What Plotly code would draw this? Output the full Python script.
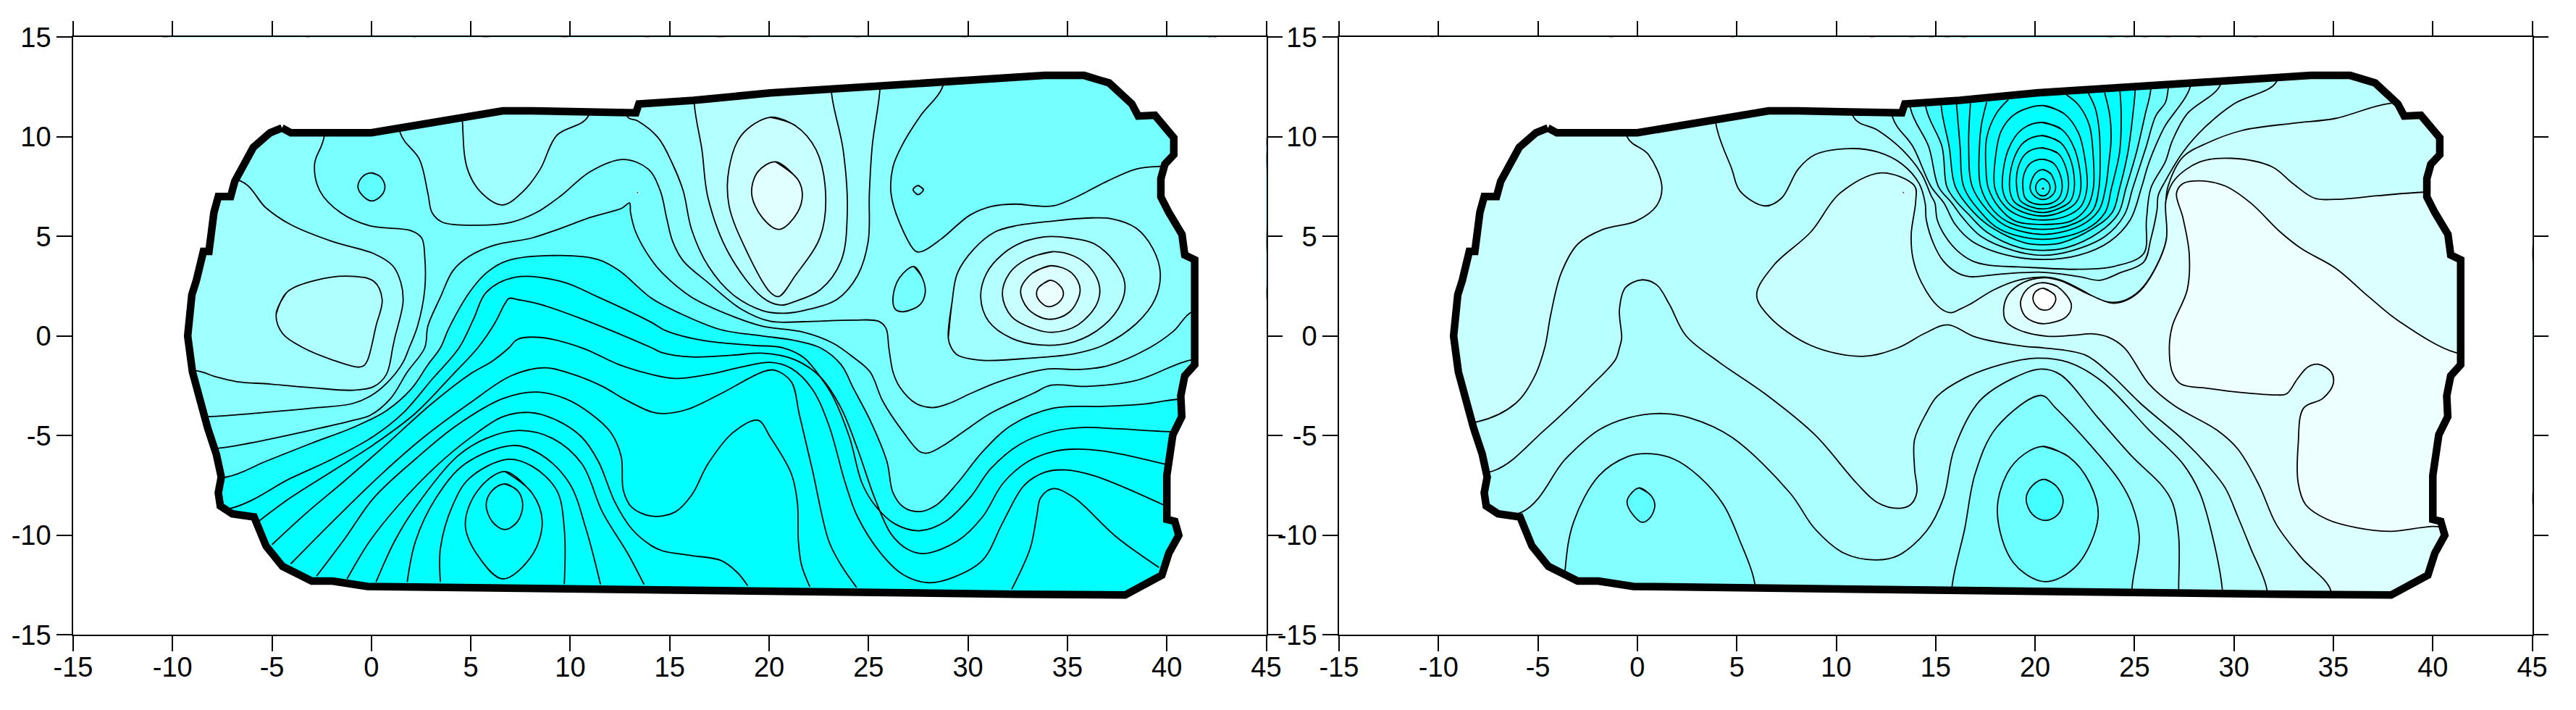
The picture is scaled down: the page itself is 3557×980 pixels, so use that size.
import plotly.graph_objects as go

X_TICKS = [-15, -10, -5, 0, 5, 10, 15, 20, 25, 30, 35, 40, 45]
Y_TICKS = [-15, -10, -5, 0, 5, 10, 15]
X_TEXT = [str(v) for v in X_TICKS]
Y_TEXT = [str(v) for v in Y_TICKS]

BOUNDARY = [(-4.5,10.44),(-4.05,10.2),(0,10.2),(6.6,11.3),(8.07,11.3),(13.3,11.2),(13.45,11.65),(16.2,11.83),(20.06,12.2),(23.2,12.4),(28.74,12.76),(33.86,13.08),(35.84,13.08),(37.1,12.7),(38.24,11.65),(38.56,11.04),(39.4,11.08),(39.9,10.44),(40.35,9.95),(40.35,9.1),(39.9,8.62),(39.7,7.9),(39.7,6.98),(40.1,6.2),(40.76,5.1),(40.9,4.07),(41.4,3.83),(41.4,-1.44),(40.9,-2),(40.7,-3),(40.75,-4.05),(40.3,-4.96),(40.1,-6.8),(40,-7),(40,-9.2),(40.4,-9.3),(40.6,-10),(40.1,-10.9),(39.75,-12),(37.9,-13),(32.5,-12.96),(14.1,-12.7),(6.5,-12.6),(-0.2,-12.57),(-1.96,-12.3),(-3,-12.3),(-4.47,-11.56),(-5.3,-10.54),(-5.9,-9.08),(-7,-8.92),(-7.6,-8.53),(-7.7,-7.87),(-7.55,-7.08),(-7.8,-5.93),(-8.24,-4.6),(-8.65,-3.02),(-9,-1.8),(-9.24,0),(-9.03,2.07),(-8.8,2.8),(-8.45,4.25),(-8.17,4.25),(-7.92,6.2),(-7.7,7),(-7.08,7),(-6.87,7.77),(-6.35,8.74),(-5.94,9.47),(-5.1,10.2),(-4.5,10.44)]

# ---------- left map contours ----------
A_LA = [(-6.56,7.77),(-5.31,6.44),(-4.06,5.59),(-1.96,4.74),(0.13,4.13),(1.07,3.53),(1.48,2.68),(1.59,1.71),(1.17,-0.11),(1.07,-0.59),(0.75,-1.93),(0.13,-2.53),(-0.92,-2.72),(-3.01,-2.59),(-5.1,-2.41),(-6.77,-2.29),(-7.82,-2.05),(-8.76,-1.75)]
A_LB = [(-4.79,1.10),(-4.26,2.19),(-2.8,2.8),(-1.02,3.0),(0.13,2.74),(0.54,1.83),(0.23,0.5),(-0.19,-1.2),(-0.4,-1.5),(-0.71,-1.56),(-1.96,-1.2),(-3.43,-0.59),(-4.47,0.13)]
A_P = [(-2.38,10.0),(-2.86,8.62),(-2.59,7.28),(-1.55,6.19),(-0.08,5.53),(2.01,5.28),(2.53,4.92),(2.68,4.01),(2.68,2.32),(2.32,0.5),(1.9,-0.59),(1.59,-1.32),(0.96,-2.17),(0.13,-2.9),(-0.92,-3.38),(-3.01,-3.62),(-5.1,-3.81),(-8.24,-4.05)]
A_T3 = [(1.44,10.22),(2.42,8.86),(2.84,7.16),(3.05,6.19),(3.57,5.71),(5.35,5.56),(7.02,5.71),(8.28,6.19),(9.53,7.04),(11.0,8.25),(12.67,8.86),(13.92,8.38),(14.53,7.28),(14.84,5.95),(15.15,4.74),(15.68,3.77),(16.93,2.68),(18.6,1.35),(20.06,0.74),(21.74,0.72),(24.25,0.8),(25.5,0.74),(25.88,0.38),(26.02,-0.59),(26.23,-1.81),(26.55,-2.53),(27.38,-3.38),(28.22,-3.59),(29.06,-3.38),(30.1,-2.9),(31.56,-2.29),(33.97,-1.66),(35.54,-1.68),(37.0,-1.5),(39.13,-0.59),(40.34,0.25),(41.28,1.22)]
A_V = [(-7.61,-5.62),(-6.15,-5.38),(-3.01,-4.72),(-0.92,-4.23),(-0.08,-3.99),(0.96,-3.14),(1.8,-1.81),(2.68,-0.59),(2.84,0.5),(3.47,1.95),(4.1,3.28),(4.93,4.01),(6.19,4.56),(8.07,4.92),(9.53,5.41),(11.0,5.95),(12.6,6.42),(12.98,6.68),(13.03,6.2),(13.29,5.22),(14.03,3.89),(14.63,3.16),(16.1,1.95),(18.19,0.98),(19.64,0.5),(21.74,0.19),(23.2,-0.35),(24.25,-1.08),(25.08,-1.81),(25.71,-3.26),(26.76,-4.84),(27.59,-5.81),(28.01,-5.87),(28.85,-5.44),(29.89,-4.72),(31.15,-3.87),(33.24,-2.9),(34.18,-2.47),(35.95,-2.53),(38.46,-2.23),(41.22,-1.2)]
A_W1 = [(-7.3,-7.08),(-5.31,-6.29),(-3.01,-5.38),(-0.92,-4.59),(0.75,-3.75),(2.01,-2.65),(2.84,-1.44),(3.47,-0.59),(3.89,0.38),(4.93,2.19),(5.77,3.16),(6.81,3.77),(9.53,4.04),(11.41,3.83),(12.46,3.28),(14.09,1.89),(15.47,1.16),(17.56,0.32),(19.64,0.01),(21.32,-0.23),(22.57,-0.59),(23.62,-1.44),(24.25,-2.65),(25.08,-4.23),(25.92,-6.29),(26.23,-7.87),(26.76,-8.59),(27.59,-8.81),(28.43,-8.47),(29.47,-7.38),(30.73,-5.81),(32.2,-4.47),(34.28,-3.62),(36.79,-3.53),(38.88,-3.41),(40.51,-3.18)]
A_W2 = [(-7.09,-8.65),(-4.06,-7.14),(-1.96,-6.17),(0.13,-5.02),(1.59,-3.87),(3.05,-2.17),(4.41,-0.59),(5.14,0.86),(5.77,2.19),(7.23,2.95),(9.53,2.74),(11.41,1.95),(14.09,0.68),(14.84,0.25),(16.72,-0.23),(19.23,-0.47),(20.69,-0.59),(21.74,-1.08),(22.57,-2.05),(23.2,-3.02),(24.04,-5.08),(24.67,-7.38),(25.3,-8.47),(26.34,-9.44),(27.59,-9.77),(28.85,-9.32),(30.1,-8.11),(31.15,-6.65),(32.6,-5.44),(34.28,-4.78),(35.74,-4.59),(37.41,-4.65),(40.2,-4.8)]
A_W3 = [(-5.62,-9.26),(-4.06,-8.11),(-1.96,-6.78),(0.13,-5.44),(2.22,-3.87),(4.1,-1.93),(5.35,-0.59),(6.19,0.62),(6.7,1.6),(6.92,1.89),(7.4,1.82),(8.49,1.59),(10.58,0.86),(14.09,-0.59),(14.63,-0.84),(16.1,-1.05),(18.19,-0.96),(19.64,-0.86),(21.32,-1.2),(22.57,-2.05),(23.62,-3.62),(24.45,-5.68),(25.3,-8.11),(26.13,-9.93),(26.97,-10.71),(27.8,-10.92),(29.47,-10.29),(30.73,-9.08),(31.77,-7.38),(33.03,-6.29),(34.28,-5.8),(35.33,-5.68),(37.0,-5.8),(39.97,-6.45)]
A_W4 = [(-5.0,-10.47),(-3.22,-8.84),(-1.34,-7.26),(0.75,-5.44),(3.05,-3.38),(4.93,-1.93),(6.08,-1.26),(6.92,-0.59),(7.34,-0.17),(8.49,-0.07),(10.58,-0.59),(12.46,-1.44),(14.09,-1.93),(15.26,-2.13),(16.93,-1.93),(18.6,-1.56),(20.06,-1.32),(21.11,-1.62),(22.16,-2.65),(23.0,-4.47),(23.83,-7.38),(24.45,-9.08),(25.71,-11.02),(26.76,-11.99),(28.01,-12.38),(29.27,-12.11),(30.73,-11.26),(31.77,-9.32),(32.82,-7.5),(33.86,-6.84),(34.91,-6.72),(36.37,-7.02),(39.82,-8.47)]
A_W5 = [(-4.06,-11.44),(-1.96,-9.32),(0.54,-6.9),(2.63,-5.08),(4.93,-3.38),(7.02,-2.0),(8.7,-1.59),(10.16,-1.93),(11.62,-2.53),(12.67,-3.14),(14.09,-3.81),(14.74,-3.89),(15.89,-3.68),(17.56,-2.9),(19.65,-1.81),(20.27,-1.71),(21.11,-2.29),(21.53,-3.99),(22.16,-6.65),(23.0,-10.29),(23.62,-11.5),(24.4,-12.62)]
A_W6 = [(-2.76,-12.05),(-1.34,-10.17),(0.13,-8.11),(2.22,-6.17),(4.31,-4.47),(6.61,-3.14),(8.28,-2.81),(9.74,-3.14),(10.99,-3.87),(12.04,-4.84),(12.56,-6.05),(12.67,-7.75),(13.09,-8.59),(14.09,-9.04),(15.26,-8.84),(16.1,-7.99),(16.93,-6.41),(18.19,-4.84),(19.44,-4.23),(20.06,-5.08),(21.11,-6.9),(21.42,-8.35),(21.47,-10.29),(21.63,-11.5),(22.05,-12.59)]
A_W7 = [(-1.23,-12.2),(-0.08,-10.29),(1.38,-8.47),(3.26,-6.53),(4.93,-5.14),(6.61,-4.05),(7.96,-3.84),(9.32,-4.23),(10.58,-5.08),(11.41,-6.29),(12.25,-8.35),(13.09,-9.68),(14.09,-10.53),(14.63,-10.78),(16.1,-11.02),(17.56,-11.26),(18.4,-11.87),(18.92,-12.53)]
A_W8 = [(0.23,-12.35),(1.17,-10.29),(2.22,-8.59),(4.31,-6.05),(5.77,-5.14),(7.44,-4.74),(9.11,-5.14),(10.58,-6.41),(11.62,-8.84),(12.88,-10.9),(13.71,-12.47)]
A_W9 = [(1.8,-12.35),(2.22,-10.29),(3.26,-8.11),(4.72,-6.41),(7.13,-5.49),(8.49,-5.93),(9.95,-7.38),(10.79,-9.68),(11.52,-12.47)]
A_W10 = [(3.47,-12.35),(3.47,-10.65),(4.1,-8.47),(4.93,-7.14),(6.81,-6.19),(8.07,-6.53),(9.32,-7.75),(9.7,-9.68),(9.7,-12.45)]
A_C1 = [(6.71,-6.8),(8.07,-7.87),(8.59,-9.32),(8.07,-11.02),(6.61,-12.19),(5.35,-11.02),(4.72,-9.44),(5.35,-7.75)]
A_C2 = [(6.71,-7.42),(7.34,-7.75),(7.61,-8.47),(7.34,-9.32),(6.71,-9.71),(6.08,-9.32),(5.77,-8.47),(6.08,-7.75)]
A_WR = [(32.2,-12.71),(33.13,-10.65),(33.45,-9.08),(33.66,-8.11),(34.28,-7.66),(35.33,-8.11),(37.42,-10.05),(39.61,-11.62)]
A_U = [(28.74,12.56),(27.6,11.04),(26.76,9.71),(26.23,8.5),(26.13,7.16),(26.55,5.71),(27.38,4.25),(27.7,4.25),(28.64,4.86),(30.1,6.07),(31.15,6.5),(32.4,6.62),(33.45,6.53),(34.28,6.53),(35.33,6.92),(37.0,7.77),(38.46,8.38),(39.72,8.52)]
A_T1 = [(16.24,11.62),(16.62,9.35),(16.93,6.92),(17.98,4.13),(19.65,1.95),(20.59,1.55),(21.22,1.71),(22.57,2.32),(23.62,3.77),(23.93,6.19),(23.72,9.35),(23.14,12.19)]
A_T2R = [(12.88,11.0),(13.38,10.8),(14.42,9.95),(15.15,8.62),(15.68,7.28),(16.1,5.35),(16.93,3.53),(18.19,2.07),(19.65,1.28),(20.69,1.14),(21.74,1.28),(23.4,1.83),(24.45,3.04),(24.98,4.74),(25.04,7.16),(25.19,9.59),(25.57,12.38)]
A_T2L = [(4.58,10.74),(4.83,8.38),(5.56,7.16),(6.61,6.58),(7.65,7.28),(8.49,8.38),(9.32,10.07),(10.89,11.02)]
A_O1 = [(20.06,10.98),(21.32,10.56),(22.36,9.35),(22.84,7.16),(22.57,4.98),(21.32,3.04),(20.48,1.98),(20.06,2.19),(18.81,4.38),(17.98,6.56),(17.98,8.38),(18.6,10.07)]
A_O2 = [(20.33,8.74),(21.42,7.89),(21.67,7.16),(21.42,6.19),(20.52,5.35),(19.65,5.95),(19.12,7.16),(19.44,8.25)]
A_H1 = [(29.01,-0.11),(29.2,1.71),(29.47,3.16),(30.31,4.38),(31.35,5.22),(32.4,5.53),(34.28,5.77),(35.95,5.92),(37.2,5.89),(38.46,5.41),(39.3,4.38),(39.67,3.16),(39.4,1.83),(38.46,0.62),(36.79,-0.47),(35.33,-0.89),(33.24,-1.1),(30.73,-1.22),(29.47,-0.95),(29.16,-0.59)]
A_H2 = [(33.86,4.98),(32.82,4.74),(31.77,4.13),(30.94,3.16),(30.64,1.95),(31.04,0.74),(32.19,-0.11),(33.65,-0.45),(35.33,-0.29),(36.79,0.5),(37.73,1.71),(37.88,2.68),(37.42,3.65),(36.37,4.62),(35.12,4.92)]
A_H3 = [(34.28,4.23),(33.03,3.89),(32.09,3.16),(31.73,2.07),(32.19,0.98),(33.45,0.32),(34.28,0.19),(35.53,0.56),(36.47,1.59),(36.62,2.44),(36.16,3.41),(35.33,4.01)]
A_H4 = [(34.18,3.53),(33.24,3.16),(32.65,2.32),(33.03,1.35),(34.07,0.84),(35.12,1.22),(35.64,2.32),(35.22,3.16)]
A_H5 = [(34.12,2.8),(33.55,2.44),(33.45,2.07),(33.65,1.71),(34.07,1.47),(34.59,1.71),(34.8,2.13),(34.59,2.56)]
A_B27 = [(27.28,3.49),(27.7,2.92),(27.85,2.19),(27.6,1.59),(26.76,1.22),(26.34,1.35),(26.23,1.95),(26.55,2.92)]
A_TINY = [(27.49,7.55),(27.76,7.35),(27.49,7.1),(27.24,7.35)]
A_B0 = [(0,8.19),(0.45,8.0),(0.68,7.5),(0.5,7.05),(0.02,6.78),(-0.45,7.05),(-0.68,7.5),(-0.45,8.0)]
A_DOT = [(13.38,7.2)]

# ---------- right map contours ----------
B_A = [(-0.52,10.01),(0.56,9.1),(1.23,7.53),(0.98,6.56),(-0.06,5.77),(-1.73,5.35),(-2.99,4.62),(-3.83,3.16),(-4.35,1.1),(-4.66,-0.59),(-5.18,-2.05),(-6.12,-3.38),(-8.01,-4.29)]
B_8E = [(-7.27,-6.78),(-4.66,-4.71),(-2.36,-2.53),(-1.11,-1.2),(-0.9,-0.59),(-0.79,-0.11),(-0.9,1.35),(-0.59,2.44),(0.25,2.82),(0.98,2.56),(1.61,1.59),(2.45,0.01),(4.12,-1.32),(6.42,-2.9),(8.93,-4.96),(11.02,-7.38),(12.06,-8.35),(13.11,-8.65),(13.73,-8.47),(14.05,-7.87),(13.94,-6.65),(13.94,-5.2),(14.53,-3.87),(15.08,-3.02),(16.46,-2.11),(18.27,-1.44),(20.09,-1.11),(21.68,-1.32),(23.38,-2.29),(25.73,-4.72),(27.43,-6.41),(28.28,-7.87),(28.92,-10.05),(29.41,-12.68)]
B_8D = [(-5.81,-8.84),(-3.61,-6.17),(-1.94,-4.72),(-0.48,-4.11),(1.3,-3.89),(2.65,-4.11),(4.75,-5.08),(7.67,-7.87),(8.93,-9.68),(10.39,-10.9),(11.96,-11.24),(13.11,-11.02),(14.53,-9.8),(15.4,-8.11),(15.93,-5.68),(17.21,-3.26),(18.91,-2.11),(20.3,-1.66),(21.26,-1.93),(23.17,-4.11),(24.88,-6.05),(26.37,-7.5),(26.9,-8.35),(27.22,-10.05),(27.22,-12.65)]
B_8A = [(15.83,-12.53),(16.46,-9.68),(16.99,-6.9),(18.06,-4.59),(20.3,-2.98),(21.04,-3.62),(22.75,-5.44),(24.24,-7.26),(24.88,-8.47),(25.24,-10.05),(24.88,-12.59)]
B_8B = [(20.4,-5.54),(21.68,-6.05),(22.75,-7.38),(23.17,-9.08),(22.11,-11.5),(20.51,-12.33),(18.91,-11.38),(18.1,-8.84),(18.59,-6.9),(19.45,-5.93)]
B_8C = [(20.47,-7.19),(21.04,-7.5),(21.41,-8.23),(21.15,-8.96),(20.51,-9.26),(19.87,-8.96),(19.55,-8.17),(19.87,-7.5)]
B_6B = [(-3.62,-11.62),(-3.2,-9.32),(-1.94,-7.02),(-0.48,-6.05),(0.46,-5.9),(1.82,-6.17),(3.07,-7.02),(4.33,-8.47),(5.16,-10.29),(5.89,-12.35)]
B_6C = [(0.1,-7.62),(0.67,-7.99),(0.88,-8.47),(0.67,-9.08),(0.25,-9.35),(-0.23,-8.96),(-0.52,-8.35),(-0.38,-7.99)]
B_RB = [(3.95,10.65),(4.75,8.38),(5.16,7.28),(6.42,6.53),(7.25,6.92),(8.09,8.38),(8.93,9.1),(10.7,9.41),(12.1,9.23),(13.32,8.62),(14.17,7.65),(14.47,6.68),(14.53,5.83),(14.9,4.62),(15.38,3.77),(16.11,3.16),(16.72,2.98),(18.17,3.1),(20.36,3.2),(22.18,2.99),(23.27,2.8),(24.24,3.16),(25.46,3.71),(25.82,4.87),(26.13,6.32),(26.19,7.05),(26.55,7.78),(27.43,9.22),(28.5,10.44),(29.99,11.65),(32.12,12.74)]
B_LB = [(31.65,-12.69),(30.84,-10.65),(30.2,-9.08),(29.56,-7.62),(28.71,-6.53),(27.43,-5.2),(25.3,-3.38),(23.81,-1.93),(22.53,-0.96),(20.4,-0.59),(19.55,-0.53),(17.0,-0.05),(15.61,0.56),(14.44,0.13),(13.11,-0.59),(11.33,-1.02),(8.72,-0.47),(6.63,0.98),(6.0,2.07),(6.84,3.53),(8.72,5.22),(10.18,7.16),(12.27,8.19),(13.94,7.53),(14.0,6.8),(13.77,5.1),(13.86,3.89),(14.29,2.68),(15.14,1.47),(15.75,1.17),(16.23,1.35),(16.72,1.59),(17.93,2.32),(19.15,2.8),(20.48,2.96),(21.32,2.8),(22.54,2.2),(23.15,1.84),(23.88,1.69),(24.61,1.84),(25.46,2.5),(26.58,4.74),(26.58,6.8),(26.69,7.53),(27.43,8.98),(28.71,9.71),(30.42,10.32),(32.97,10.68),(35.1,10.92),(37.87,11.68)]
B_RD = [(34.85,-12.72),(33.4,-11.14),(32.12,-9.44),(31.27,-7.5),(30.2,-5.68),(29.14,-4.72),(27.01,-3.5),(25.73,-2.41),(24.49,-0.59),(23.64,-0.04),(22.91,0.11),(21.96,0.04),(20.6,-0.01),(19.15,0.32),(18.54,0.74),(18.42,1.35),(18.66,2.08),(19.39,2.68),(20.48,2.93),(21.32,2.76),(22.54,2.17),(23.88,1.65),(24.61,1.8),(25.46,2.46),(26.58,4.74),(26.58,6.8),(27.01,7.83),(28.29,8.74),(29.88,8.92),(31.9,8.5),(32.97,7.65),(34.04,6.92),(35.1,6.86),(37.23,7.04),(39.53,7.22)]
B_RE = [(39.96,-9.56),(37.87,-9.8),(36.17,-9.62),(34.68,-9.2),(33.61,-8.47),(33.23,-7.38),(33.23,-5.44),(33.5,-3.62),(34.46,-3.14),(34.99,-2.41),(34.89,-1.81),(34.25,-1.42),(33.71,-1.56),(33.18,-2.17),(32.65,-2.9),(32.12,-2.96),(30.42,-2.84),(28.71,-2.63),(27.33,-2.41),(26.9,-1.81),(26.75,-0.59),(26.9,0.5),(27.65,2.32),(27.75,4.13),(27.43,5.95),(27.11,7.16),(27.43,7.65),(28.29,7.79),(29.56,7.53),(30.84,6.68),(32.33,5.22),(33.4,4.38),(35.1,3.41),(36.8,1.95),(38.3,0.74),(41.17,-0.84)]
B_LA = [(20.36,2.68),(21.09,2.5),(21.82,1.59),(21.58,0.98),(20.36,0.62),(19.51,0.98),(19.27,1.71),(19.63,2.38)]
B_LO = [(20.42,2.4),(20.97,2.08),(21.03,1.77),(20.73,1.35),(20.24,1.35),(19.91,1.77),(20,2.2)]
B_L9 = [(10.89,10.96),(12.1,10.32),(13.32,9.35),(14.29,8.14),(14.77,7.05),(14.96,6.68),(15.08,5.83),(15.5,4.98),(16.11,4.26),(16.84,3.77),(17.69,3.55),(19.15,3.47),(20.0,3.43),(22.18,3.35),(24.0,3.5),(25.46,4.14),(25.6,5.84),(25.82,7.42),(26.55,8.75),(26.9,9.8),(27.65,11.16),(29.31,12.59)]
B_L8 = [(12.83,10.99),(13.86,9.5),(14.77,7.5),(15.41,6.68),(15.99,5.59),(16.84,4.75),(18.62,4.05),(20.4,3.84),(22.18,4.05),(23.76,4.75),(24.79,5.84),(25.34,7.42),(25.7,8.63),(26.19,9.84),(26.55,10.57),(27.8,12.5)]
B_L7 = [(13.74,11.41),(14.65,9.5),(15.14,7.5),(15.81,6.68),(16.35,5.95),(17.28,5.0),(18.98,4.27),(20.4,4.05),(21.82,4.27),(23.52,5.0),(24.49,6.08),(24.91,7.42),(25.58,9.48),(26.07,11.05),(26.55,11.72),(26.69,12.42)]
B_L6 = [(14.51,11.47),(15.32,9.5),(15.56,7.5),(16.0,6.8),(16.62,6.14),(17.59,5.2),(19.23,4.43),(20.4,4.3),(21.57,4.43),(23.21,5.2),(24.18,6.14),(24.57,7.42),(25.1,9.23),(25.52,11.05),(25.82,12.39)]
B_L5 = [(15.28,11.53),(15.68,9.5),(15.99,7.5),(16.92,6.2),(17.89,5.4),(19.47,4.68),(20.4,4.58),(21.33,4.68),(22.91,5.4),(23.88,6.2),(24.25,7.42),(24.67,9.23),(24.91,11.05),(25.03,12.32)]
B_L4 = [(16.05,11.63),(16.23,9.5),(16.41,7.5),(17.28,6.2),(18.25,5.35),(20.4,4.85),(22.55,5.35),(23.52,6.2),(23.84,7.42),(24.25,9.23),(24.33,11.05),(24.27,12.29)]
B_L3 = [(16.75,11.69),(16.66,9.5),(16.84,7.5),(17.59,6.32),(18.5,5.55),(20.4,5.1),(22.3,5.55),(23.21,6.32),(23.54,7.42),(23.7,8.63),(23.82,9.84),(23.76,11.05),(23.49,12.24)]
B_L2 = [(17.57,11.75),(17.3,10.6),(17.2,9.5),(17.26,7.5),(17.89,6.32),(18.74,5.68),(20.4,5.35),(22.06,5.68),(22.91,6.32),(23.21,7.42),(23.27,9.23),(23.21,10.45),(23.03,11.42),(22.67,12.2)]
B_L1 = [(18.66,11.87),(18.05,11.17),(17.57,9.96),(17.53,8.38),(17.65,7.42),(18.19,6.45),(18.98,5.78),(20.4,5.6),(21.82,5.78),(22.61,6.45),(22.93,7.42),(22.91,9.23),(22.73,10.57),(22.18,11.6),(21.57,12.11)]
B_C7 = [(20.4,11.57),(21.45,11.17),(22.18,10.2),(22.49,8.99),(22.61,7.42),(22.3,6.5),(21.57,6.02),(20.4,5.82),(19.25,6.02),(18.5,6.5),(17.98,7.42),(18.0,8.9),(18.3,10.3),(19.0,11.15)]
B_C6 = [(20.35,10.72),(21.33,10.38),(22.0,9.35),(22.3,7.42),(22.06,6.7),(21.39,6.25),(20.4,6.02),(19.31,6.25),(18.64,6.7),(18.36,7.42),(18.65,9.35),(19.35,10.38)]
B_C5 = [(20.35,10.06),(21.27,9.72),(21.82,8.75),(21.97,7.42),(21.76,6.75),(21.15,6.38),(20.4,6.2),(19.55,6.38),(18.94,6.75),(18.72,7.42),(18.88,8.75),(19.43,9.72)]
B_C4 = [(20.35,9.44),(21.15,9.17),(21.57,8.39),(21.67,7.42),(21.45,6.8),(20.97,6.5),(20.4,6.38),(19.75,6.5),(19.25,6.8),(19.08,7.42),(19.13,8.39),(19.55,9.17)]
B_C3 = [(20.4,8.87),(20.91,8.69),(21.27,8.08),(21.36,7.42),(21.21,6.95),(20.85,6.68),(20.4,6.6),(19.85,6.68),(19.49,6.95),(19.39,7.42),(19.43,8.08),(19.79,8.69)]
B_C2 = [(20.4,8.35),(20.79,8.14),(21.03,7.42),(20.85,7.05),(20.4,6.85),(19.94,7.05),(19.75,7.42),(20.0,8.14)]
B_C1 = [(20.4,7.9),(20.66,7.72),(20.75,7.42),(20.6,7.11),(20.4,7.03),(20.18,7.11),(20.03,7.42),(20.12,7.72)]
B_DOTS = [(13.38,7.2),(20.4,7.4)]

# points that lie outside the mapped outline, used only to close open contours
LEFT_TOP = [(43,14.5),(-11,14.5)]
RIGHT_LOW = [(43,-14.5)]
LOW_LEFT = [(-11,-14.5)]

LINE_W = 1.8
fig = go.Figure()

def xs(p): return [q[0] for q in p]
def ys(p): return [q[1] for q in p]

def region(path, outside, color, ax):
    pts = list(path) + list(outside) + [path[0]] if outside else list(path) + list(path[:2])
    fig.add_trace(go.Scatter(x=xs(pts), y=ys(pts), xaxis=ax[0], yaxis=ax[1], mode="lines", fill="toself",
                             fillcolor=color, line=dict(color="black", width=LINE_W, shape="spline", smoothing=1.0, simplify=False),
                             hoverinfo="skip", showlegend=False))

def stroke(path, ax, closed=False):
    pts = list(path) + (list(path[:2]) if closed else [])
    fig.add_trace(go.Scatter(x=xs(pts), y=ys(pts), xaxis=ax[0], yaxis=ax[1], mode="lines",
                             line=dict(color="black", width=LINE_W, shape="spline", smoothing=1.0, simplify=False),
                             hoverinfo="skip", showlegend=False))

def base(color, ax):
    fig.add_trace(go.Scatter(x=xs(BOUNDARY), y=ys(BOUNDARY), xaxis=ax[0], yaxis=ax[1], mode="lines", fill="toself",
                             fillcolor=color, line=dict(width=0), hoverinfo="skip", showlegend=False))

def finish(ax, dots, dot_sizes):
    x0, x1 = X_TICKS[0], X_TICKS[-1]
    y0, y1 = Y_TICKS[0], Y_TICKS[-1]
    outer = [(x0, y0), (x1, y0), (x1, y1), (x0, y1), (x0, y0)]
    mask = outer + BOUNDARY + [(x0, y0)]
    fig.add_trace(go.Scatter(x=xs(mask), y=ys(mask), xaxis=ax[0], yaxis=ax[1], mode="lines", fill="toself",
                             fillcolor="white", line=dict(width=0, color="white"), hoverinfo="skip", showlegend=False))
    fig.add_trace(go.Scatter(x=xs(BOUNDARY), y=ys(BOUNDARY), xaxis=ax[0], yaxis=ax[1], mode="lines",
                             line=dict(color="black", width=10.5), hoverinfo="skip", showlegend=False))
    fig.add_trace(go.Scatter(x=xs(dots), y=ys(dots), xaxis=ax[0], yaxis=ax[1], mode="markers",
                             marker=dict(color="black", size=dot_sizes), hoverinfo="skip", showlegend=False))

L = ("x", "y")
R = ("x2", "y2")

# left map
base("#00FFFF", L)
for path, col in [(A_W2, "#18FFFF"), (A_W1, "#60FFFF"), (A_V, "#78FFFF")]:
    region(path, [(43, path[-1][1])] + LEFT_TOP + [(-11, path[0][1])], col, L)
region(A_P, [(-11, -4.05), (-11, 14.5), (-2.38, 14.5)], "#8CFFFF", L)
region(A_T3, [(43, 1.22), (43, 14.5), (1.44, 14.5)], "#8CFFFF", L)
region(A_U, [(43, 8.52), (43, 14.5), (28.74, 14.5)], "#75FFFF", L)
region(A_T2L, [(10.89, 14.5), (4.58, 14.5)], "#A0FFFF", L)
region(A_T2R, [(25.57, 14.5), (12.88, 14.5)], "#A0FFFF", L)
region(A_T1, [(23.14, 14.5), (16.24, 14.5)], "#B4FFFF", L)
region(A_O1, [], "#C8FFFF", L)
region(A_O2, [], "#E2FFFF", L)
for path, col in [(A_H1, "#A0FFFF"), (A_H2, "#B4FFFF"), (A_H3, "#C8FFFF"), (A_H4, "#DCFFFF"), (A_H5, "#ECFFFF")]:
    region(path, [], col, L)
region(A_LA, [(-11, -1.75), (-11, 7.77)], "#A0FFFF", L)
region(A_LB, [], "#B0FFFF", L)
region(A_B0, [], "#60FFFF", L)
region(A_B27, [], "#75FFFF", L)
region(A_TINY, [], "#75FFFF", L)
for path in [A_W3, A_W4, A_W5, A_W6, A_W7, A_W8, A_W9, A_W10, A_WR]:
    stroke(path, L)
for path in [A_C1, A_C2]:
    stroke(path, L, closed=True)
finish(L, A_DOT, [3])

# right map
base("#B8FFFF", R)
region(B_A, [(-11, -4.29), (-11, 14.5), (-0.52, 14.5)], "#C8FFFF", R)
region(B_8E, [(29.41, -14.5)] + LOW_LEFT + [(-11, -6.78)], "#ACFFFF", R)
region(B_8D, [(27.22, -14.5)] + LOW_LEFT + [(-11, -8.84)], "#9CFFFF", R)
region(B_6B, [(5.89, -14.5), (-3.62, -14.5)], "#84FFFF", R)
region(B_6C, [], "#60FFFF", R)
region(B_8A, [(24.88, -14.5), (15.83, -14.5)], "#84FFFF", R)
region(B_8B, [], "#6CFFFF", R)
region(B_8C, [], "#44FFFF", R)
region(B_LB, [(43, 11.68)] + RIGHT_LOW + [(31.65, -14.5)], "#C8FFFF", R)
region(B_RD, [(43, 7.22)] + RIGHT_LOW + [(34.85, -14.5)], "#DCFFFF", R)
region(B_RE, [(43, -0.84), (43, -9.56)], "#EEFFFF", R)
region(B_LA, [], "#EEFFFF", R)
region(B_LO, [], "#FFFFFF", R)
region(B_RB, [(32.12, 14.5), (3.95, 14.5)], "#ACFFFF", R)
for path, col in [(B_L9, "#A0FFFF"), (B_L8, "#8CFFFF"), (B_L7, "#70FFFF"), (B_L6, "#40FFFF"), (B_L5, "#00FFFF")]:
    region(path, [(path[-1][0], 14.5), (path[0][0], 14.5)], col, R)
for path in [B_L4, B_L3, B_L2, B_L1]:
    stroke(path, R)
for path in [B_C7, B_C6, B_C5, B_C4, B_C3, B_C2, B_C1]:
    stroke(path, R, closed=True)
finish(R, B_DOTS, [3, 5])

W, H = 3557, 980
axis_common = dict(ticks="outside", ticklen=21, tickwidth=1.6, tickcolor="black", linecolor="black", linewidth=1.6,
                   mirror="ticks", showgrid=False, zeroline=False, automargin=False,
                   tickfont=dict(family="Liberation Sans", size=38, color="black"))
xc = dict(axis_common, range=[X_TICKS[0], X_TICKS[-1]], tickmode="array", tickvals=X_TICKS, ticktext=X_TEXT, tickangle=0, ticklabelstandoff=-11)
yc = dict(axis_common, range=[Y_TICKS[0], Y_TICKS[-1]], tickmode="array", tickvals=Y_TICKS, ticktext=Y_TEXT)
yd = [(H - 876.3) / H, (H - 51.3) / H]
fig.update_layout(
    width=W, height=H, margin=dict(l=0, r=0, t=0, b=0, autoexpand=False), paper_bgcolor="white", plot_bgcolor="white", showlegend=False,
    xaxis=dict(xc, domain=[101 / W, 1748.5 / W], anchor="y"),
    yaxis=dict(yc, domain=yd, anchor="x"),
    xaxis2=dict(xc, domain=[1849 / W, 3496.6 / W], anchor="y2"),
    yaxis2=dict(yc, domain=yd, anchor="x2"),
)
fig.write_html("out.html", config={"displayModeBar": False}, post_script="document.body.style.margin='0';document.body.style.overflow='hidden';")
